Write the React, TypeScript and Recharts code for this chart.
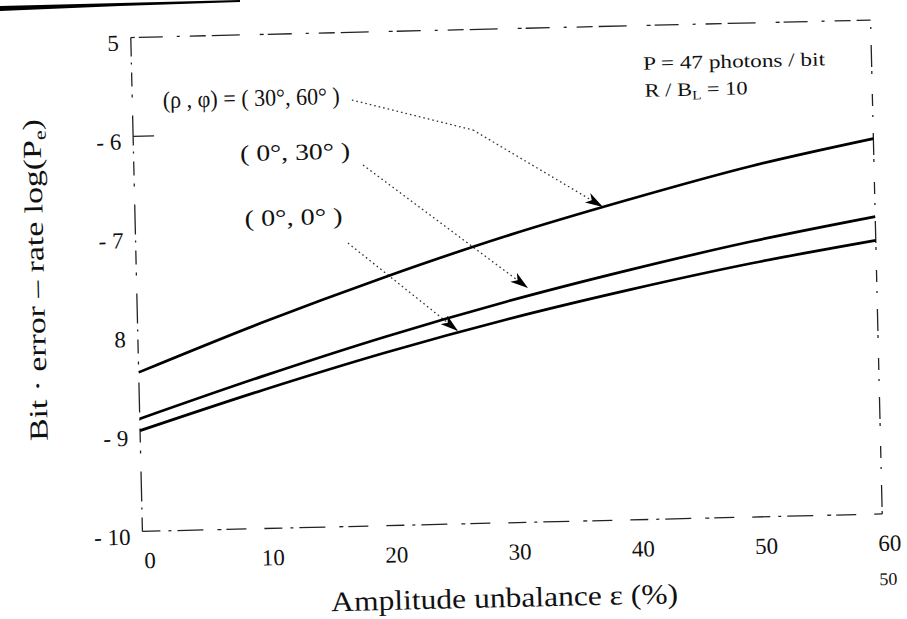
import React from 'react';
import { LineChart, Line, XAxis, YAxis, ReferenceLine } from 'recharts';

// ---- data ----
const epsValues = [0, 10, 20, 30, 40, 50, 60];
const ber30_60 = [-8.39, -7.92, -7.49, -7.10, -6.76, -6.45, -6.20];
const ber0_30 = [-8.86, -8.46, -8.09, -7.76, -7.47, -7.21, -6.99];
const ber0_0 = [-8.98, -8.60, -8.25, -7.94, -7.67, -7.43, -7.23];

const xTicks = [0, 10, 20, 30, 40, 50, 60];
const xTickLabels = ['0', '10', '20', '30', '40', '50', '60'];
const yTicks = [-10, -9, -8, -7, -6, -5];
const yTickLabels = ['- 10', '- 9', '8', '- 7', '- 6', '5'];

// arrow segments in data coordinates [eps, log(Pe)]
const arrow30_60 = [[17.8, -5.685], [27.56, -6.017], [37.95, -6.827]];
const arrow0_30 = [[18.58, -6.345], [31.72, -7.629]];
const arrow0_0 = [[17.21, -7.131], [25.96, -8.047]];

const data = epsValues.map((e, i) => ({
  eps: e,
  a: ber30_60[i],
  b: ber0_30[i],
  c: ber0_0[i],
}));

const FONT = '"Liberation Serif", "DejaVu Serif", serif';
const INK = '#111';

const XTick = (props: any) => {
  const { x, y, payload } = props;
  const i = xTicks.indexOf(payload.value);
  return (
    <text x={x + 7} y={y} dy={37} textAnchor="middle" fontSize={23} fontFamily={FONT} fill={INK}>
      {xTickLabels[i]}
    </text>
  );
};

const YTick = (props: any) => {
  const { x, y, payload } = props;
  const i = yTicks.indexOf(payload.value);
  return (
    <text x={x} y={y} dy={13} textAnchor="end" fontSize={23} fontFamily={FONT} fill={INK}>
      {yTickLabels[i]}
    </text>
  );
};

const segs = (pts: number[][], withHead: boolean, key: string) =>
  pts.slice(0, -1).map((p, i) => (
    <ReferenceLine
      key={key + i}
      segment={[{ x: p[0], y: p[1] }, { x: pts[i + 1][0], y: pts[i + 1][1] }]}
      stroke="#333"
      strokeWidth={1.3}
      strokeDasharray="1.6 3"
      markerEnd={withHead && i === pts.length - 2 ? 'url(#arrowHead)' : undefined}
      ifOverflow="visible"
    />
  ));

export default function App() {
  return (
    <div style={{ position: 'absolute', left: 0, top: 0, width: 907, height: 619, background: '#fff', overflow: 'hidden' }}>
      {/* scanner edge artifact */}
      <svg width={907} height={619} style={{ position: 'absolute', left: 0, top: 0 }}>
        <polygon points="0,6 0,11 120,6 240,2 240,0 120,3" fill="#000" />
      </svg>
      <div
        style={{
          position: 'absolute',
          left: 0,
          top: 0,
          width: 907,
          height: 619,
          transform: 'rotate(-1.35deg)',
          transformOrigin: '506.5px 275.75px',
        }}
      >
        <svg width={0} height={0} style={{ position: 'absolute' }}>
          <defs>
            <marker
              id="arrowHead"
              viewBox="0 0 18 11"
              refX={18}
              refY={5.5}
              markerWidth={18}
              markerHeight={11}
              markerUnits="userSpaceOnUse"
              orient="auto"
            >
              <path d="M0,0 L18,5.5 L0,11 L5,5.5 Z" fill="#000" stroke="none" />
            </marker>
          </defs>
        </svg>
        <div style={{ position: 'absolute', left: 0, top: 0 }}>
          <LineChart
            width={907}
            height={619}
            data={data}
            margin={{ top: 28.75, right: 30.5, bottom: 56.25, left: 76.5 }}
          >
            <XAxis
              dataKey="eps"
              type="number"
              domain={[0, 60]}
              ticks={xTicks}
              axisLine={false}
              tickLine={false}
              tickSize={0}
              tickMargin={0}
              height={40}
              tick={<XTick />}
              interval={0}
            />
            <YAxis
              type="number"
              domain={[-10, -5]}
              ticks={yTicks}
              axisLine={false}
              tickLine={false}
              tickSize={0}
              tickMargin={12}
              width={60}
              tick={<YTick />}
              interval={0}
            />
            {/* dashed frame */}
            <ReferenceLine y={-5} stroke="#222" strokeWidth={1.3} strokeDasharray="4 4 24 14 3 10 16 6 28 20" ifOverflow="visible" />
            <ReferenceLine y={-10} stroke="#222" strokeWidth={1.3} strokeDasharray="18 8 3 6 26 14 4 5 20 18" ifOverflow="visible" />
            <ReferenceLine x={0} stroke="#222" strokeWidth={1.3} strokeDasharray="14 8 2 6 30 18 3 8" ifOverflow="visible" />
            <ReferenceLine x={60} stroke="#222" strokeWidth={1.3} strokeDasharray="3 4 22 16 2 9 12 20" ifOverflow="visible" />
            <ReferenceLine segment={[{ x: 0, y: -6 }, { x: 1.7, y: -6 }]} stroke="#222" strokeWidth={1.3} ifOverflow="visible" />
            {/* leader arrows */}
            {segs(arrow30_60, true, 'a')}
            {segs(arrow0_30, true, 'b')}
            {segs(arrow0_0, true, 'c')}
            <Line type="monotone" dataKey="a" stroke="#000" strokeWidth={2.7} dot={false} isAnimationActive={false} />
            <Line type="monotone" dataKey="b" stroke="#000" strokeWidth={2.7} dot={false} isAnimationActive={false} />
            <Line type="monotone" dataKey="c" stroke="#000" strokeWidth={2.7} dot={false} isAnimationActive={false} />
          </LineChart>
        </div>
        <svg width={907} height={619} style={{ position: 'absolute', left: 0, top: 0, pointerEvents: 'none' }} fontFamily={FONT} fill={INK}>
          <text x={167} y={100} fontSize={24} textLength={177} lengthAdjust="spacingAndGlyphs">(ρ , φ) = ( 30°, 60° )</text>
          <text x={243} y={155} fontSize={23} textLength={110} lengthAdjust="spacingAndGlyphs">( 0°, 30° )</text>
          <text x={246} y={220} fontSize={23} textLength={98} lengthAdjust="spacingAndGlyphs">( 0°, 0° )</text>
          <text x={648} y={73} fontSize={19} textLength={182} lengthAdjust="spacingAndGlyphs">P = 47 photons / bit</text>
          <text x={649} y={100} fontSize={19} textLength={103} lengthAdjust="spacingAndGlyphs">
            R / B<tspan fontSize={13} dy={4}>L</tspan><tspan dy={-4}> = 10</tspan>
          </text>
          <text x={497} y={607} fontSize={28} textAnchor="middle" textLength={347} lengthAdjust="spacingAndGlyphs">
            Amplitude unbalance ε (%)
          </text>
          <text
            x={0}
            y={0}
            fontSize={26}
            textAnchor="middle"
            textLength={322}
            lengthAdjust="spacingAndGlyphs"
            transform="translate(44,269) rotate(-90)"
          >
            Bit · error – rate  log(P<tspan fontSize={17} dy={5}>e</tspan><tspan dy={-5}>)</tspan>
          </text>
          <text x={881} y={594} fontSize={18} textAnchor="middle">50</text>
        </svg>
      </div>
    </div>
  );
}
